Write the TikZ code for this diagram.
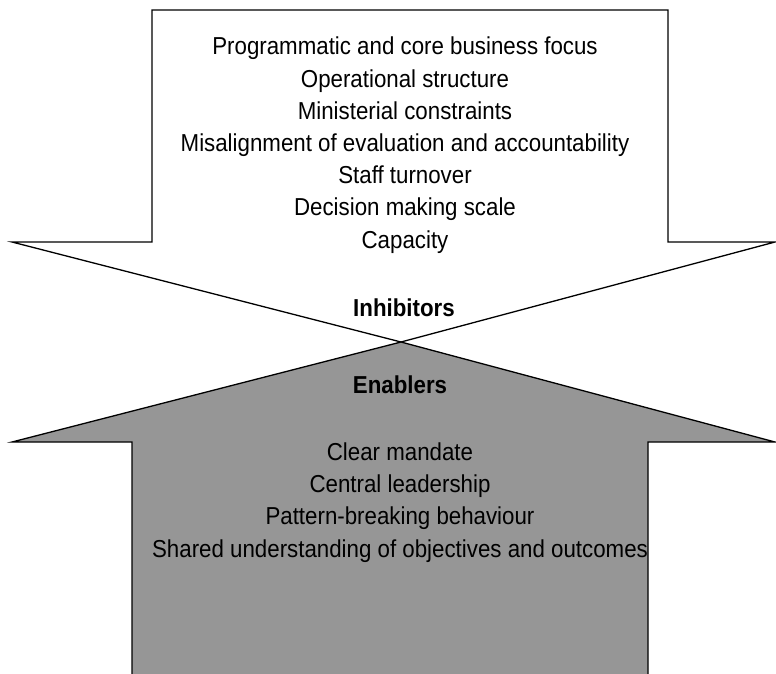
\documentclass[tikz,border=0pt]{standalone}
\usepackage{fontspec}
\setmainfont{Liberation Sans}[FakeStretch=0.91]
\definecolor{enablergray}{RGB}{150,150,150}
\begin{document}
\begin{tikzpicture}[x=1pt,y=-1pt,
  outline/.style={draw=black,line width=1.3pt,line join=miter},
  itemtext/.style={align=center,inner sep=0pt,font=\fontsize{24.5}{32.2}\selectfont},
  labeltext/.style={inner sep=0pt,font=\fontsize{24.5}{30}\selectfont\bfseries}]
\useasboundingbox (0,0) rectangle (776,673);
% downward arrow: inhibitors
\draw[outline,fill=white] (152,10) -- (668,10) -- (668,242) -- (775,242)
  -- (401,342) -- (12,242) -- (152,242) -- cycle;
% upward arrow: enablers
\draw[outline,fill=enablergray] (132,690) -- (132,442) -- (12,442)
  -- (401,342) -- (775,442) -- (648,442) -- (648,690);
% multi-line nodes: the base anchor sits on the last line's baseline
\node[itemtext,anchor=base] (inh) at (405,248) {Programmatic and core business focus\\
  Operational structure\\
  Ministerial constraints\\
  Misalignment of evaluation and accountability\\
  Staff turnover\\
  Decision making scale\\
  Capacity};
\node[labeltext,anchor=base] (inhlabel) at (404,316) {Inhibitors};
\node[labeltext,anchor=base] (enalabel) at (400,393) {Enablers};
\node[itemtext,anchor=base] (ena) at (400,557) {Clear mandate\\
  Central leadership\\
  Pattern-breaking behaviour\\
  Shared understanding of objectives and outcomes};
\end{tikzpicture}
\end{document}
